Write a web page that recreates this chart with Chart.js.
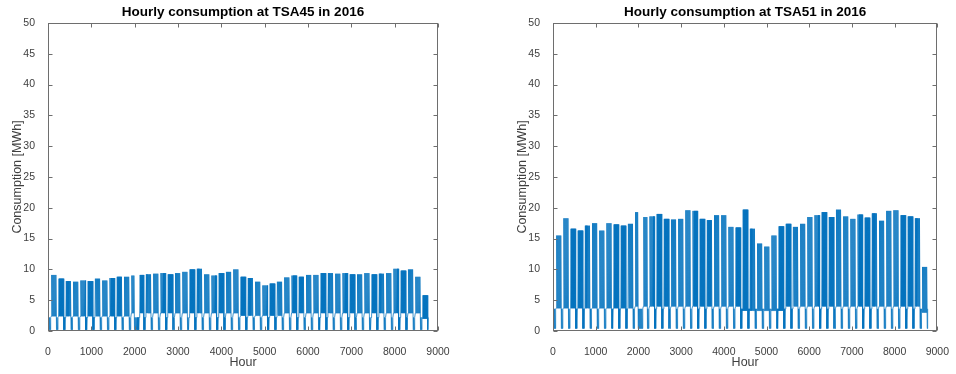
<!DOCTYPE html>
<html>
<head>
<meta charset="utf-8">
<script src="https://cdn.jsdelivr.net/npm/chart.js@4.4.1/dist/chart.umd.min.js"></script>
<style>
  html, body { margin: 0; padding: 0; background: #fff; }
  .fig { position: relative; width: 956px; height: 374px; }
  .panel { position: absolute; top: 0; width: 478px; height: 374px; }
  #left { left: 0; }
  #right { left: 478px; }
</style>
</head>
<body>
<div class="fig">
  <div class="panel" id="left"><canvas id="chartA" width="478" height="374"></canvas></div>
  <div class="panel" id="right"><canvas id="chartB" width="478" height="374"></canvas></div>
</div>
<script>
// ticks
const xTicks = [0, 1000, 2000, 3000, 4000, 5000, 6000, 7000, 8000, 9000];
const yTicks = [0, 5, 10, 15, 20, 25, 30, 35, 40, 45, 50];

// days (0 = 1 Jan 2016) that look like holidays in the picture
const holidays = [0, 83, 84, 87];

// TSA45 - weekly (Mon-Fri) peak and night base
const weekPeakA = [9.1, 8.5, 8.1, 8.0, 8.2, 8.1, 8.5, 8.2, 8.6, 8.8,
                   8.8, 9.0, 9.1, 9.2, 9.3, 9.4, 9.2, 9.4, 9.6, 10.0,
                   10.1, 9.2, 9.0, 9.4, 9.6, 10.0, 8.8, 8.6, 8.0, 7.4,
                   7.7, 8.0, 8.7, 9.0, 8.8, 9.1, 9.1, 9.4, 9.4, 9.3,
                   9.4, 9.2, 9.2, 9.4, 9.2, 9.3, 9.4, 10.1, 9.8, 10.0,
                   8.8, 5.8];
const weekBaseA = [2.4, 2.4, 2.4, 2.4, 2.4, 2.4, 2.4, 2.4, 2.4, 2.4,
                   2.4, 2.9, 2.9, 2.9, 2.9, 2.9, 2.9, 2.9, 2.9, 2.9,
                   2.9, 2.9, 2.9, 2.9, 2.9, 2.9, 2.5, 2.5, 2.5, 2.5,
                   2.5, 2.5, 2.9, 2.9, 2.9, 2.9, 2.9, 2.9, 2.9, 2.9,
                   2.9, 2.9, 2.9, 2.9, 2.9, 2.9, 2.9, 2.9, 2.9, 2.9,
                   2.9, 2.0];
const weekendA = [2.2, 0.2]; // [peak, low]

// TSA51
const weekPeakB = [15.5, 18.3, 16.6, 16.3, 17.1, 17.5, 16.3, 17.5, 17.3, 17.1,
                   17.4, 19.3, 18.5, 18.6, 19.0, 18.2, 18.1, 18.2, 19.6, 19.5,
                   18.2, 18.0, 18.8, 18.8, 16.9, 16.8, 19.7, 16.6, 14.2, 13.7,
                   15.5, 17.0, 17.4, 16.9, 17.4, 18.5, 18.8, 19.3, 18.5, 19.7,
                   18.6, 18.2, 18.9, 18.4, 19.1, 17.9, 19.5, 19.6, 18.8, 18.6,
                   18.3, 10.4];
const weekBaseB = [3.7, 3.7, 3.7, 3.7, 3.7, 3.7, 3.7, 3.7, 3.7, 3.7,
                   3.7, 4.0, 4.0, 4.0, 4.0, 4.0, 4.0, 4.0, 4.0, 4.0,
                   4.0, 4.0, 4.0, 4.0, 4.0, 4.0, 3.3, 3.3, 3.3, 3.3,
                   3.3, 3.3, 4.0, 4.0, 4.0, 4.0, 4.0, 4.0, 4.0, 4.0,
                   4.0, 4.0, 4.0, 4.0, 4.0, 4.0, 4.0, 4.0, 4.0, 4.0,
                   4.0, 3.0];
const weekendB = [3.6, 0.4];

const FONT = '"Liberation Sans", Arial, Helvetica, sans-serif';
const AXIS = '#6e6e6e';
const TEXT = '#404040';
const LINE = '#0072BD';

// one night value and one day value per day, Mon-Fri from the week arrays
function buildSeries(peaks, bases, weekend) {
  const pts = [];
  for (let d = 0; d < 366; d++) {
    const dow = (d + 4) % 7;           // 1 Jan 2016 was a Friday
    const k = Math.floor((d - 3) / 7); // first Monday is day 3
    const off = k < 0 || dow >= 5 || holidays.includes(d);
    pts.push({ x: d * 24 + 4, y: off ? weekend[1] : bases[k] });
    pts.push({ x: d * 24 + 14, y: off ? weekend[0] : peaks[k] });
  }
  return pts;
}

// matlab style box with inward ticks on all four sides
const axesBox = {
  id: 'axesBox',
  afterDraw(chart) {
    const { ctx, chartArea: a, scales } = chart;
    const L = Math.round(a.left) + 0.5, R = Math.round(a.right) - 0.5;
    const T = Math.round(a.top) + 0.5, B = Math.round(a.bottom) - 0.5;
    const len = 4;
    ctx.save();
    ctx.strokeStyle = AXIS;
    ctx.lineWidth = 1;
    ctx.strokeRect(L, T, R - L, B - T);
    ctx.beginPath();
    scales.x.ticks.forEach(t => {
      const px = Math.round(scales.x.getPixelForValue(t.value)) + 0.5;
      ctx.moveTo(px, B); ctx.lineTo(px, B - len);
      ctx.moveTo(px, T); ctx.lineTo(px, T + len);
    });
    scales.y.ticks.forEach(t => {
      const py = Math.round(scales.y.getPixelForValue(t.value)) + 0.5;
      ctx.moveTo(L, py); ctx.lineTo(L + len, py);
      ctx.moveTo(R, py); ctx.lineTo(R - len, py);
    });
    ctx.stroke();
    ctx.restore();
  }
};

function makeChart(id, title, data, padLeft, padRight) {
  return new Chart(document.getElementById(id), {
    type: 'line',
    data: {
      datasets: [{
        data: data,
        borderColor: LINE,
        borderWidth: 0.75,
        pointRadius: 0,
        tension: 0,
        fill: false
      }]
    },
    options: {
      responsive: false,
      animation: false,
      parsing: false,
      normalized: true,
      layout: { padding: { left: padLeft, right: padRight, top: 0, bottom: 0 } },
      plugins: {
        legend: { display: false },
        tooltip: { enabled: false }
      },
      scales: {
        // top axis only carries the title, so it is centred over the plot box
        top: {
          type: 'linear',
          position: 'top',
          min: 0, max: 9000,
          grid: { display: false },
          border: { display: false },
          ticks: { display: false },
          afterFit: s => { s.height = 23; },
          title: {
            display: true, text: title, color: '#000',
            font: { family: FONT, size: 13.5, weight: 'bold' },
            padding: { top: 4, bottom: 0 }
          }
        },
        x: {
          type: 'linear',
          min: 0, max: 9000,
          grid: { display: false },
          border: { display: false },
          afterBuildTicks: s => { s.ticks = xTicks.map(v => ({ value: v })); },
          afterFit: s => { s.height = 43; },
          ticks: {
            color: TEXT, padding: 7, maxRotation: 0,
            font: { family: FONT, size: 10.5 },
            callback: v => String(v)
          },
          title: {
            display: true, text: 'Hour', color: TEXT,
            font: { family: FONT, size: 12.5 }, padding: { top: 0, bottom: 3.5 }
          }
        },
        y: {
          min: 0, max: 50,
          grid: { display: false },
          border: { display: false },
          afterBuildTicks: s => { s.ticks = yTicks.map(v => ({ value: v })); },
          afterFit: s => { s.width = 48; },
          ticks: {
            color: TEXT, padding: 5,
            font: { family: FONT, size: 10.5 },
            callback: v => String(v)
          },
          title: {
            display: true, text: 'Consumption [MWh]', color: TEXT,
            font: { family: FONT, size: 12.5 }, padding: { top: 10.5, bottom: 0 }
          }
        }
      }
    },
    plugins: [axesBox]
  });
}

makeChart('chartA', 'Hourly consumption at TSA45 in 2016',
  buildSeries(weekPeakA, weekBaseA, weekendA), 0, 40);
makeChart('chartB', 'Hourly consumption at TSA51 in 2016',
  buildSeries(weekPeakB, weekBaseB, weekendB), 27, 12);
</script>
</body>
</html>
